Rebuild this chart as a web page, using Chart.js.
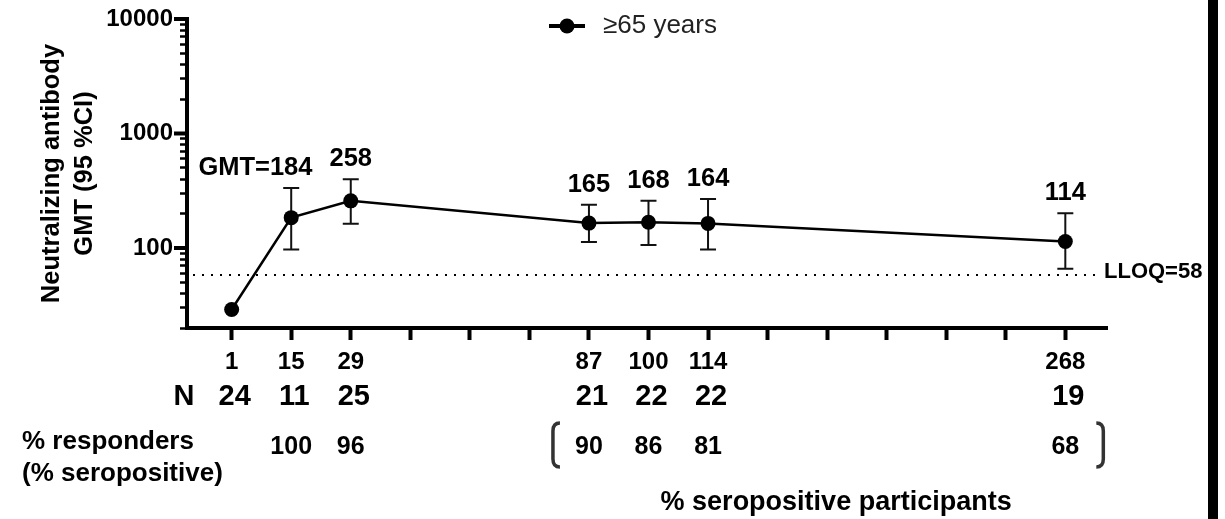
<!DOCTYPE html>
<html>
<head>
<meta charset="utf-8">
<script src="https://cdn.jsdelivr.net/npm/chart.js@4.4.1/dist/chart.umd.min.js"></script>
<style>
  html, body { margin: 0; padding: 0; background: #fff; }
  #wrap { position: relative; width: 1225px; height: 519px; }
  #edge { position: absolute; left: 1208px; top: 0; width: 10px; height: 519px; background: #000; }
</style>
</head>
<body>
<div id="wrap">
  <canvas id="gmtChart" width="1225" height="519"></canvas>
  <div id="edge"></div>
</div>
<script>
// Study day slots on the (ordinal) x axis, 15 evenly spaced tick positions
const slot = [0, 1, 2, 6, 7, 8, 14];
const dayLabels = ['1', '15', '29', '87', '100', '114', '268'];

// GMT and 95% CI
const gmt = [29, 184, 258, 165, 168, 164, 114];
const ciLow = [null, 97, 163, 113, 106, 97, 66];
const ciHigh = [null, 334, 399, 239, 259, 268, 201];

// table below the plot
const nSubjects = [24, 11, 25, 21, 22, 22, 19];
const responders = [null, 100, 96, 90, 86, 81, 68];

const lloq = 58;
const yMajor = [100, 1000, 10000];
const yMinorSteps = [2, 3, 4, 5, 6, 7, 8, 9];

const FONT = '"Liberation Sans", Arial, sans-serif';

// tick values for the log axis: 20..90, 100..900, 1000..9000, 10000
function buildLogTicks() {
    const out = [];
    [10, 100, 1000].forEach(dec => {
        if (dec > 10) out.push(dec);
        yMinorSteps.forEach(m => out.push(m * dec));
    });
    out.push(10000);
    return out.filter(v => v >= 20);
}

// legend: line-with-dot marker and label, top centre of the plot
const legendBox = {
    id: 'legendBox',
    afterDraw(chart) {
        const { ctx, chartArea } = chart;
        const x0 = (chartArea.left + chartArea.right) / 2 - 98;
        const yc = chartArea.top + 7;
        ctx.save();
        ctx.strokeStyle = '#000';
        ctx.lineWidth = 4;
        ctx.beginPath(); ctx.moveTo(x0, yc); ctx.lineTo(x0 + 36, yc); ctx.stroke();
        ctx.fillStyle = '#000';
        ctx.beginPath(); ctx.arc(x0 + 18, yc, 7.5, 0, Math.PI * 2); ctx.fill();
        ctx.fillStyle = '#222';
        ctx.font = '26px ' + FONT;
        ctx.textAlign = 'left';
        ctx.textBaseline = 'middle';
        ctx.fillText(chart.data.datasets[0].label, x0 + 54, yc);
        ctx.restore();
    }
};

// error bars, drawn under the points
const errorBars = {
    id: 'errorBars',
    beforeDatasetsDraw(chart) {
        const { ctx, scales: { x, y } } = chart;
        ctx.save();
        ctx.strokeStyle = '#111';
        ctx.lineWidth = 2;
        slot.forEach((s, i) => {
            if (ciLow[i] == null) return;
            const px = x.getPixelForValue(s);
            const top = y.getPixelForValue(ciHigh[i]);
            const bot = y.getPixelForValue(ciLow[i]);
            ctx.beginPath();
            ctx.moveTo(px, top); ctx.lineTo(px, bot);
            ctx.moveTo(px - 8, top); ctx.lineTo(px + 8, top);
            ctx.moveTo(px - 8, bot); ctx.lineTo(px + 8, bot);
            ctx.stroke();
        });
        ctx.restore();
    }
};

// dotted LLOQ line + label
const lloqLine = {
    id: 'lloqLine',
    beforeDatasetsDraw(chart) {
        const { ctx, chartArea, scales: { y } } = chart;
        const py = y.getPixelForValue(lloq);
        ctx.save();
        ctx.strokeStyle = '#000';
        ctx.lineWidth = 2;
        ctx.setLineDash([2, 7]);
        ctx.beginPath();
        ctx.moveTo(chartArea.left + 6, py);
        ctx.lineTo(chartArea.right - 8, py);
        ctx.stroke();
        ctx.restore();
    },
    afterDraw(chart) {
        const { ctx, chartArea, scales: { y } } = chart;
        ctx.save();
        ctx.fillStyle = '#000';
        ctx.font = 'bold 22px ' + FONT;
        ctx.textAlign = 'left';
        ctx.textBaseline = 'middle';
        ctx.fillText('LLOQ=' + lloq, chartArea.right - 3, y.getPixelForValue(lloq) - 3);
        ctx.restore();
    }
};

// GMT value labels above the upper CI
const valueLabels = {
    id: 'valueLabels',
    afterDatasetsDraw(chart) {
        const { ctx, scales: { x, y } } = chart;
        ctx.save();
        ctx.fillStyle = '#000';
        ctx.font = 'bold 25.5px ' + FONT;
        ctx.textBaseline = 'alphabetic';
        slot.forEach((s, i) => {
            if (ciHigh[i] == null) return;
            const px = x.getPixelForValue(s);
            const py = y.getPixelForValue(ciHigh[i]) - 13;
            const txt = String(gmt[i]);
            ctx.textAlign = 'center';
            ctx.fillText(txt, px, py);
            if (i === 1) {
                const w = ctx.measureText(txt).width;
                ctx.textAlign = 'right';
                ctx.fillText('GMT=', px - w / 2, py);
            }
        });
        ctx.restore();
    }
};

// longer marks for the decade ticks
const majorTicks = {
    id: 'majorTicks',
    afterDraw(chart) {
        const { ctx, chartArea, scales: { y } } = chart;
        ctx.save();
        ctx.strokeStyle = '#000';
        ctx.lineWidth = 4;
        yMajor.forEach(v => {
            const py = y.getPixelForValue(v);
            ctx.beginPath();
            ctx.moveTo(chartArea.left - 13, py);
            ctx.lineTo(chartArea.left, py);
            ctx.stroke();
        });
        ctx.restore();
    }
};

// N / responders table under the x axis
const tableRows = {
    id: 'tableRows',
    afterDraw(chart) {
        const { ctx, chartArea, scales: { x } } = chart;
        const base = chartArea.bottom;
        ctx.save();
        ctx.fillStyle = '#000';
        ctx.textBaseline = 'alphabetic';

        ctx.font = 'bold 29px ' + FONT;
        ctx.textAlign = 'center';
        ctx.fillText('N', chartArea.left - 3, base + 77);
        nSubjects.forEach((n, i) => ctx.fillText(String(n), x.getPixelForValue(slot[i]) + 3, base + 77));

        ctx.font = 'bold 26px ' + FONT;
        ctx.textAlign = 'left';
        ctx.fillText('% responders', 22, base + 121);
        ctx.fillText('(% seropositive)', 22, base + 153);

        ctx.font = 'bold 25px ' + FONT;
        ctx.textAlign = 'center';
        responders.forEach((r, i) => {
            if (r == null) return;
            ctx.fillText(String(r), x.getPixelForValue(slot[i]), base + 126);
        });

        // brackets around the seropositive values
        const bl = x.getPixelForValue(slot[3]) - 36;
        const br = x.getPixelForValue(slot[6]) + 38;
        const bt = base + 95, bb = base + 139;
        ctx.strokeStyle = '#333';
        ctx.lineWidth = 3.5;
        ctx.beginPath();
        ctx.moveTo(bl + 7, bt); ctx.quadraticCurveTo(bl, bt, bl, bt + 8);
        ctx.lineTo(bl, bb - 8); ctx.quadraticCurveTo(bl, bb, bl + 7, bb);
        ctx.moveTo(br - 7, bt); ctx.quadraticCurveTo(br, bt, br, bt + 8);
        ctx.lineTo(br, bb - 8); ctx.quadraticCurveTo(br, bb, br - 7, bb);
        ctx.stroke();

        ctx.font = 'bold 27px ' + FONT;
        ctx.textAlign = 'center';
        ctx.fillText('% seropositive participants', (bl + br) / 2 + 8, base + 182);
        ctx.restore();
    }
};

const ctx = document.getElementById('gmtChart').getContext('2d');
new Chart(ctx, {
    type: 'line',
    data: {
        datasets: [{
            label: '≥65 years',
            data: slot.map((s, i) => ({ x: s, y: gmt[i] })),
            borderColor: '#000',
            backgroundColor: '#000',
            borderWidth: 2.5,
            pointRadius: 7.5,
            pointHoverRadius: 7.5,
            pointBackgroundColor: '#000',
            pointBorderWidth: 0,
            tension: 0
        }]
    },
    options: {
        responsive: false,
        animation: false,
        layout: { padding: { left: 0, top: 14, right: 118, bottom: 0 } },
        plugins: {
            tooltip: { enabled: false },
            legend: { display: false }
        },
        scales: {
            x: {
                type: 'linear',
                min: -0.75,
                max: 14.7,
                afterBuildTicks: (scale) => {
                    scale.ticks = Array.from({ length: 15 }, (_, k) => ({ value: k }));
                },
                afterFit: (scale) => { scale.height = 191; },
                border: { display: true, color: '#000', width: 4 },
                grid: { drawOnChartArea: false, drawTicks: true, tickLength: 12, tickWidth: 4, tickColor: '#000' },
                ticks: {
                    autoSkip: false,
                    maxRotation: 0,
                    padding: 8,
                    color: '#000',
                    font: { family: FONT, size: 24, weight: 'bold' },
                    callback: (value) => {
                        const idx = slot.indexOf(value);
                        return idx >= 0 ? dayLabels[idx] : '';
                    }
                }
            },
            y: {
                type: 'logarithmic',
                min: 20,
                max: 10000,
                afterBuildTicks: (scale) => {
                    scale.ticks = buildLogTicks().map(v => ({ value: v, major: yMajor.includes(v) }));
                },
                afterFit: (scale) => { scale.width = 187; },
                border: { display: true, color: '#000', width: 4 },
                grid: { drawOnChartArea: false, drawTicks: true, tickLength: 7, tickWidth: 2.5, tickColor: '#000' },
                title: {
                    display: true,
                    text: ['Neutralizing antibody', 'GMT (95 %CI)'],
                    color: '#000',
                    font: { family: FONT, size: 25.5, weight: 'bold', lineHeight: 1.27 },
                    padding: { top: 36, bottom: 0 }
                },
                ticks: {
                    autoSkip: false,
                    padding: 7,
                    color: '#000',
                    font: { family: FONT, size: 24, weight: 'bold', lineHeight: 1 },
                    callback: (value) => yMajor.includes(value) ? String(value) : ''
                }
            }
        }
    },
    plugins: [lloqLine, errorBars, valueLabels, majorTicks, tableRows, legendBox]
});
</script>
</body>
</html>
